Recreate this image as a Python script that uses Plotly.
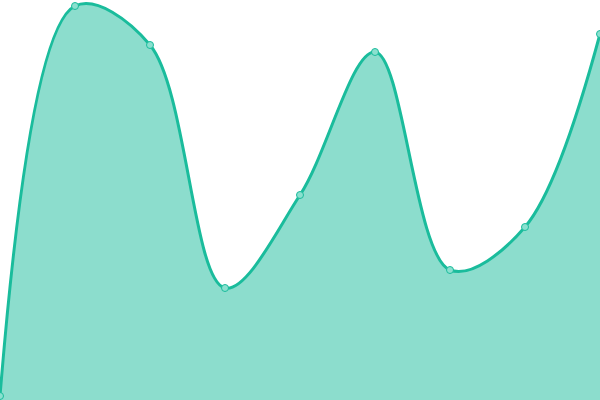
import plotly.graph_objects as go

# data
x_vals = [0, 1, 2, 3, 4, 5, 6, 7, 8]
y_vals = [4, 394, 355, 112, 205, 348, 130, 173, 366]

line_color = "#1abc9c"
fill_color = "rgba(26,188,156,0.5)"

fig = go.Figure()

fig.add_trace(go.Scatter(
    x=x_vals,
    y=y_vals,
    mode="lines+markers",
    line=dict(color=line_color, width=3, shape="spline", smoothing=1),
    marker=dict(size=7, color="#8ae0cf", line=dict(color=line_color, width=1)),
    fill="tozeroy",
    fillcolor=fill_color,
    cliponaxis=False,
))

fig.update_layout(
    width=600,
    height=400,
    margin=dict(l=0, r=0, t=0, b=0),
    paper_bgcolor="white",
    plot_bgcolor="white",
    showlegend=False,
    xaxis=dict(range=[0, 8], visible=False, fixedrange=True),
    yaxis=dict(range=[0, 400], visible=False, fixedrange=True),
)

# drop the browser's default body margin so the chart sits at 0,0
fig.write_html(
    "out.html",
    config={"displayModeBar": False},
    post_script="document.body.style.margin='0';document.body.style.overflow='hidden';",
)
